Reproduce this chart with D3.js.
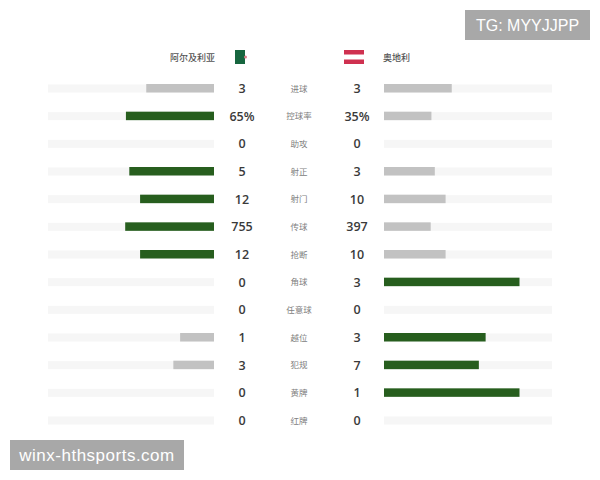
<!DOCTYPE html>
<html>
<head>
<meta charset="utf-8">
<style>
html,body{margin:0;padding:0;background:#fff;}
svg{display:block;}
text{font-family:"Noto Sans CJK SC","Noto Sans",sans-serif;}
</style>
<script src="https://cdn.jsdelivr.net/npm/d3@7/dist/d3.min.js"></script>
</head>
<body>
<svg id="chart" width="600" height="480"></svg>
<script>
// Match statistics, one entry per row
const statNames = ["进球","控球率","助攻","射正","射门","传球","抢断","角球","任意球","越位","犯规","黄牌","红牌"];
const homeValues = [3,65,0,5,12,755,12,0,0,1,3,0,0];
const awayValues = [3,35,0,3,10,397,10,3,0,3,7,1,0];
const valueSuffixes = ["","%","","","","","","","","","","",""];
const homeTeam = "阿尔及利亚";
const awayTeam = "奥地利";

const GREEN = "#275e1e", GREY = "#c2c2c2", TRACK = "#f6f6f6";
const svg = d3.select("#chart");

const rowY = d3.scalePoint().domain(d3.range(statNames.length)).range([88.5, 420.5]);
// Each bar length is that side's share of the row total
const shareLen = d3.scaleLinear().domain([0, 1]).range([0, 135.5]);
const share = (a, b) => (a + b === 0 ? 0 : a / (a + b));
const fillFor = (a, b) => (a > b ? GREEN : GREY);

const rows = statNames.map((name, i) => ({
  name, i, home: homeValues[i], away: awayValues[i], suffix: valueSuffixes[i]
}));

const g = svg.selectAll("g.row").data(rows).join("g")
  .attr("class", "row")
  .attr("transform", d => `translate(0,${rowY(d.i)})`);

// Background tracks
g.append("rect").attr("x", 48).attr("y", -4).attr("width", 166).attr("height", 8).attr("fill", TRACK);
g.append("rect").attr("x", 384).attr("y", -4).attr("width", 168).attr("height", 8).attr("fill", TRACK);

// Value bars growing outward from the centre
g.append("rect")
  .attr("x", d => 214 - shareLen(share(d.home, d.away)))
  .attr("y", -4.5).attr("height", 8.5)
  .attr("width", d => shareLen(share(d.home, d.away)))
  .attr("fill", d => fillFor(d.home, d.away));
g.append("rect")
  .attr("x", 384).attr("y", -4.5).attr("height", 8.5)
  .attr("width", d => shareLen(share(d.away, d.home)))
  .attr("fill", d => fillFor(d.away, d.home));

// Numbers and stat names
const num = sel => sel.attr("text-anchor", "middle").attr("y", 4.5)
  .attr("font-size", 12.5).attr("font-weight", 600).attr("fill", "#3a3a3a")
  .style("font-family", "'Open Sans','Noto Sans',sans-serif");
g.append("text").call(num).attr("x", 242).text(d => d.home + d.suffix);
g.append("text").call(num).attr("x", 357).text(d => d.away + d.suffix);
g.append("text").attr("x", 299).attr("y", 3.2).attr("text-anchor", "middle")
  .attr("font-size", 8.5).attr("fill", "#808080").text(d => d.name);

// Team names
svg.append("text").attr("x", 215).attr("y", 61).attr("text-anchor", "end")
  .attr("font-size", 9).attr("font-weight", 500).attr("fill", "#555").text(homeTeam);
svg.append("text").attr("x", 383).attr("y", 61)
  .attr("font-size", 9).attr("font-weight", 500).attr("fill", "#555").text(awayTeam);

// Algerian flag
svg.append("rect").attr("x", 235).attr("y", 50).attr("width", 10).attr("height", 14).attr("fill", "#17663f");
svg.append("circle").attr("cx", 245.5).attr("cy", 57).attr("r", 1.5).attr("fill", "#d9808a");

// Austrian flag
svg.append("rect").attr("x", 344).attr("y", 50).attr("width", 20).attr("height", 4.5).attr("fill", "#cf3150");
svg.append("rect").attr("x", 344).attr("y", 59.5).attr("width", 20).attr("height", 4.5).attr("fill", "#cf3150");

// Overlaid caption boxes
const captions = [
  {x: 465, y: 10, w: 125, size: 16, spacing: 0, text: "TG: MYYJJPP"},
  {x: 10, y: 440, w: 174, size: 17, spacing: 0.5, text: "winx-hthsports.com"}
];
captions.forEach(c => {
  svg.append("rect").attr("x", c.x).attr("y", c.y).attr("width", c.w).attr("height", 30).attr("fill", "#a8a8a8");
  svg.append("text").attr("x", c.x + c.w / 2).attr("y", c.y + 21).attr("text-anchor", "middle")
    .attr("font-size", c.size).attr("letter-spacing", c.spacing).attr("fill", "#fff")
    .style("font-family", "'Liberation Sans',sans-serif").text(c.text);
});
</script>
</body>
</html>
